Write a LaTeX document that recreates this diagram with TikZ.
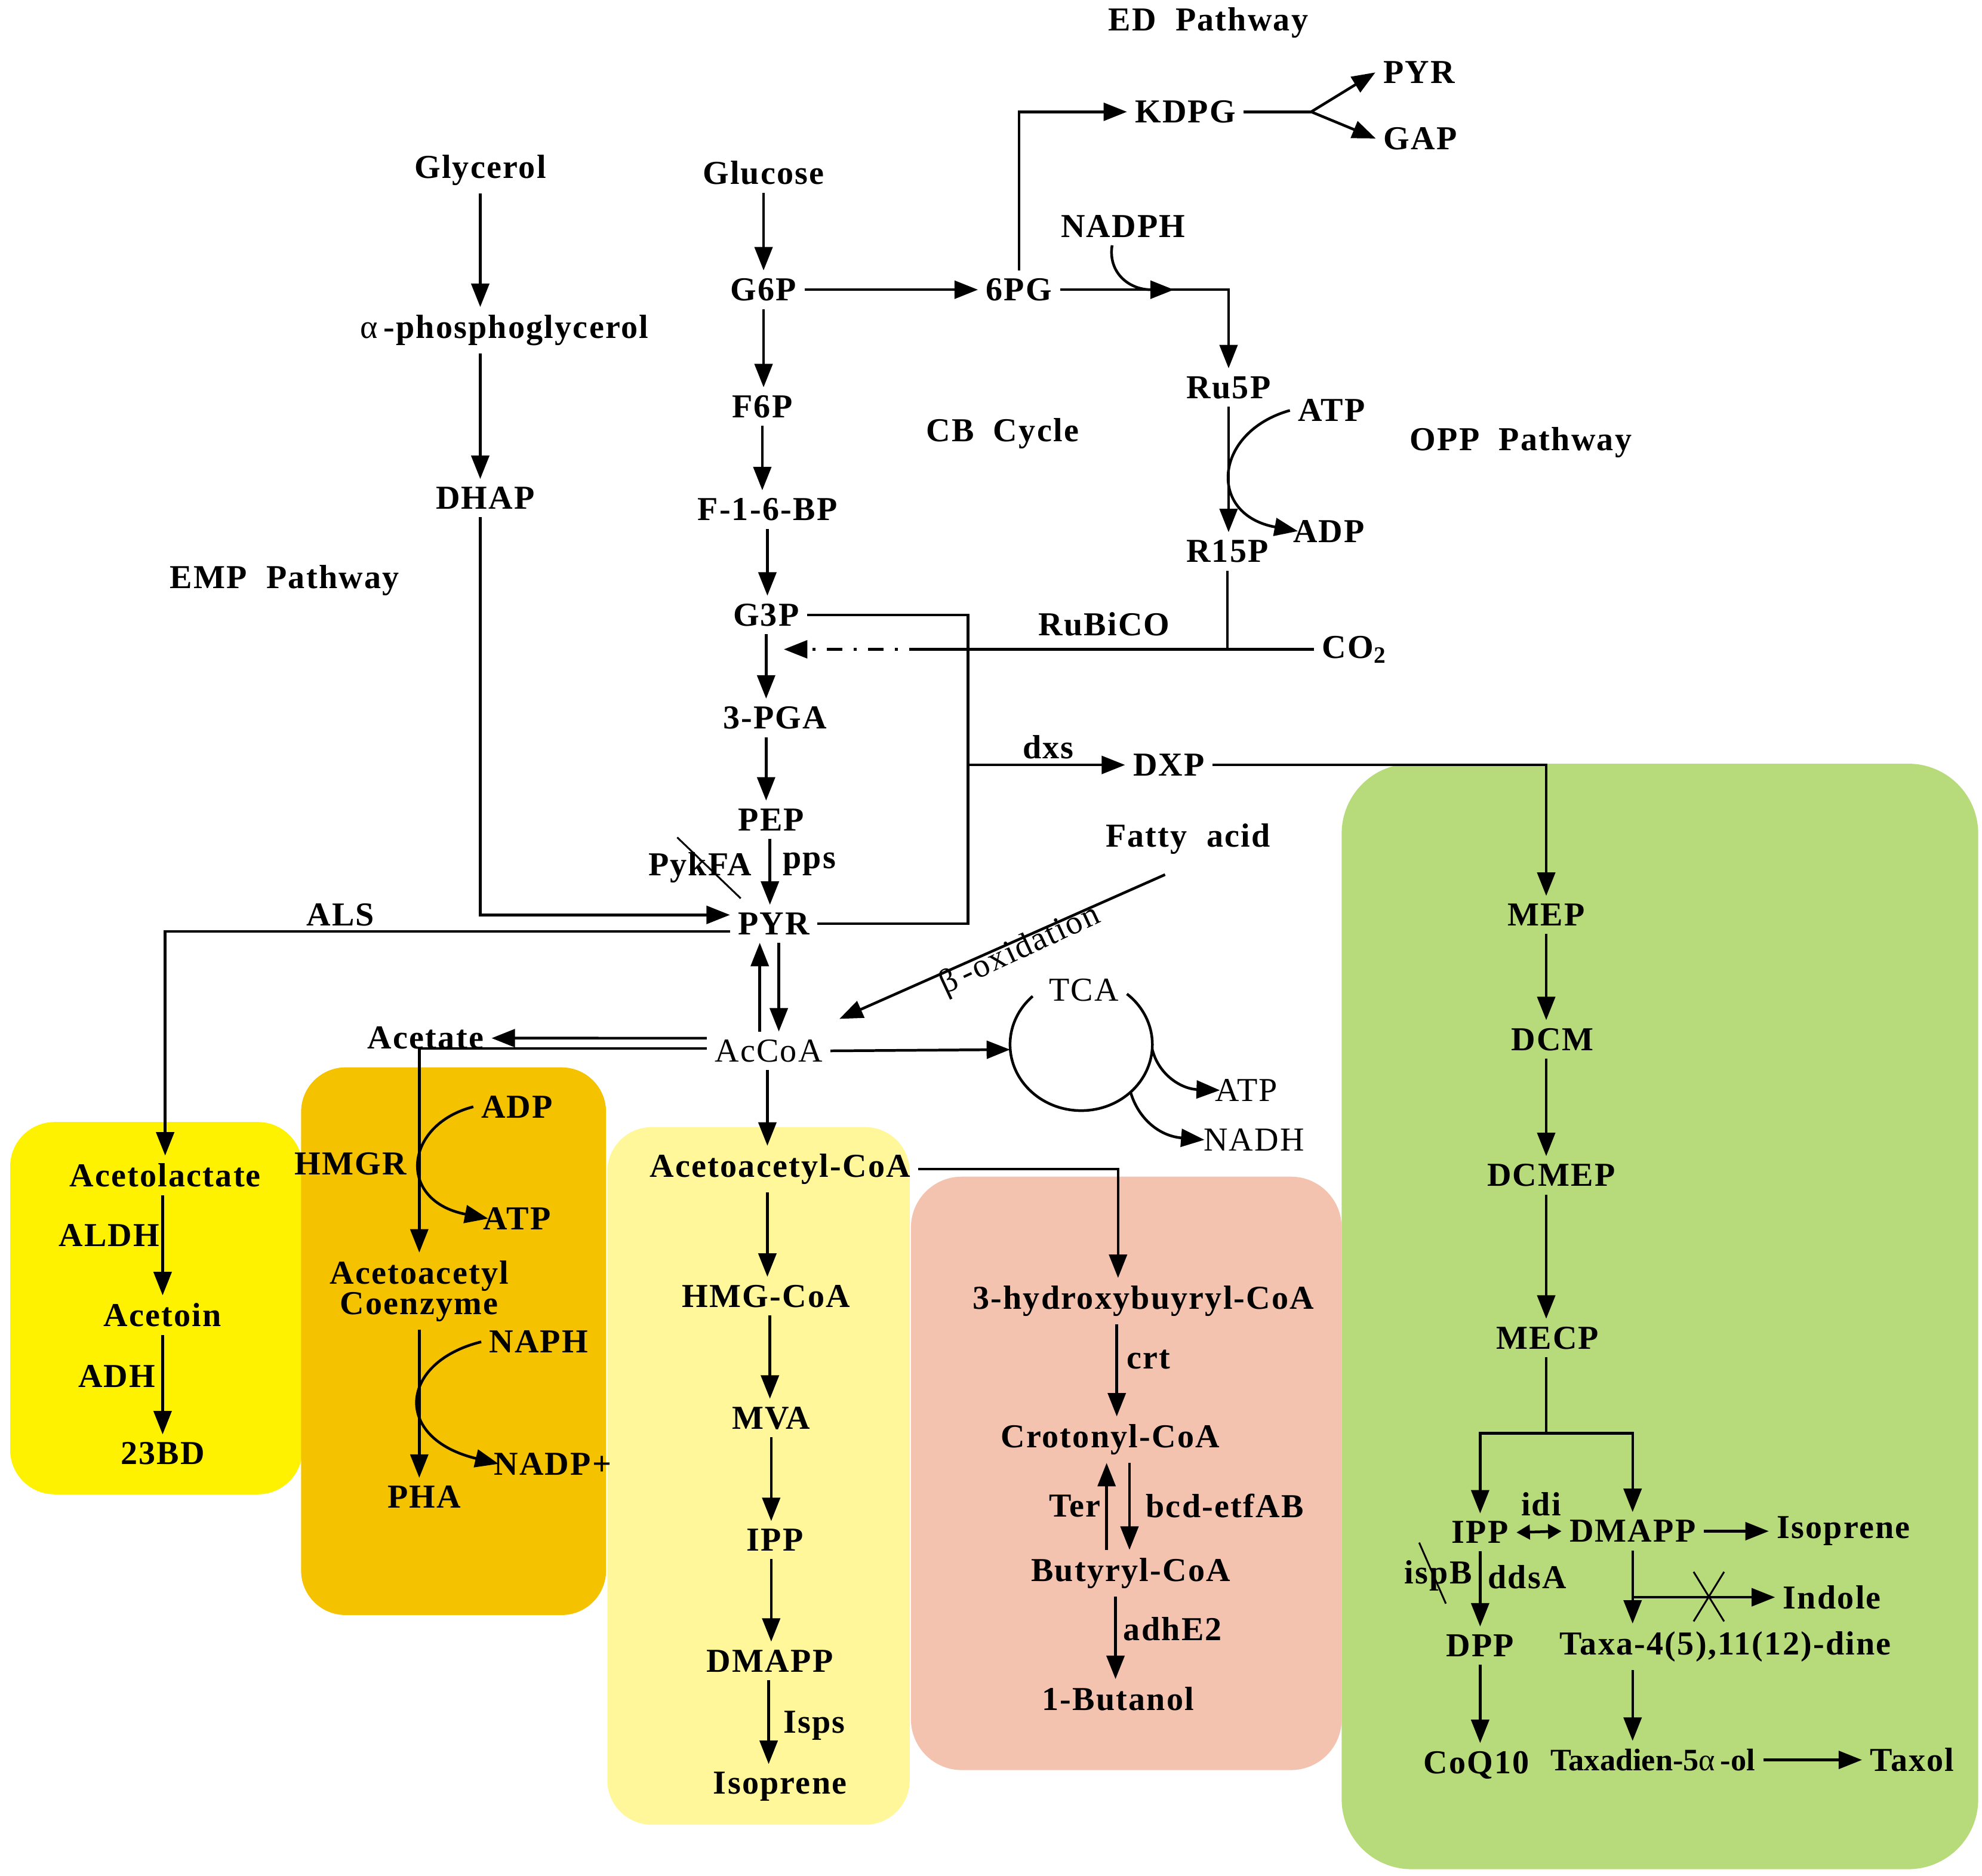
\documentclass[tikz,border=0pt]{standalone}
\usepackage{fontspec}
\setmainfont{Liberation Serif}[LetterSpace=4]
\usetikzlibrary{arrows.meta}
\definecolor{bdbox}{RGB}{255,242,0}
\definecolor{phabox}{RGB}{245,194,0}
\definecolor{mvabox}{RGB}{255,247,153}
\definecolor{butbox}{RGB}{244,195,176}
\definecolor{mepbox}{RGB}{183,219,123}

\begin{document}
\begin{tikzpicture}[x=0.02cm,y=-0.02cm,line width=1.2pt,
  every node/.style={font=\bfseries\fontsize{15}{17}\selectfont,inner sep=3pt},
  slim/.style={font=\mdseries\fontsize{15}{17}\selectfont},
  arr/.style={-{Triangle[length=10.5pt,width=8pt]}},
  twoway/.style={{Triangle[length=6pt,width=6.5pt]}-{Triangle[length=6pt,width=6.5pt]}},
  strike/.style={line width=0.8pt}]
\useasboundingbox (0,0) rectangle (1560,1476);

% coloured boxes
\fill[bdbox,rounded corners=0.7cm] (8,883) rectangle (238,1176);
\fill[phabox,rounded corners=0.7cm] (237,840) rectangle (477,1271);
\fill[mvabox,rounded corners=0.7cm] (478,887) rectangle (716,1436);
\fill[butbox,rounded corners=0.8cm] (717,926) rectangle (1056,1393);
\fill[mepbox,rounded corners=1.1cm] (1056,601) rectangle (1557,1471);

% upper part
\node (edp) at (951,18) {ED\ \ Pathway};
\node (pyred) at (1117,57) {PYR};
\node (gap) at (1118,109) {GAP};
\node (kdpg) at (933,88) {KDPG};
\node (glycerol) at (378,134) {Glycerol};
\node (glucose) at (601,136) {Glucose};
\node (nadph) at (884,178) {NADPH};
\node (g6p) at (601,228) {G6P};
\node (pg6) at (802,228) {6PG};
\node (aphos) at (397,260) {{\mdseries α}\,-phosphoglycerol};
\node (ru5p) at (967,305) {Ru5P};
\node (f6p) at (600,320) {F6P};
\node (atpopp) at (1048,323) {ATP};
\node (cbc) at (789,341) {CB\ \ Cycle};
\node (oppp) at (1197,348) {OPP\ \ Pathway};
\node (dhap) at (382,392) {DHAP};
\node (fbp) at (604,401) {F-1-6-BP};
\node (adpopp) at (1046,418) {ADP};
\node (r15p) at (966,434) {R15P};
\node (empp) at (224,457) {EMP\ \ Pathway};
\node (g3p) at (603,484) {G3P};
\node (rubisco) at (869,491) {RuBiCO};
\node (co2) at (1066,511) {CO\textsubscript{2}};
\node (pga) at (610,565) {3-PGA};
\node (dxs) at (825,588) {dxs};
\node (dxp) at (920,602) {DXP};
\node (pep) at (607,645) {PEP};
\node (fatty) at (935,660) {Fatty\ \ acid};
\node (pykfa) at (551,683) {PykFA};
\node (pps) at (637,680) {pps};
\node (als) at (268,720) {ALS};
\node (pyr) at (609,727) {PYR};
\node[slim,rotate=25,inner sep=0pt] (boxid) at (803,748) {β\,-oxidation};
\node[slim] (tca) at (853,779) {TCA};
\node (acetate) at (335,817) {Acetate};
\node[slim] (accoa) at (605,827) {AcCoA};
\node[slim] (atptca) at (981,858) {ATP};
\node[slim] (nadh) at (987,897) {NADH};

% 2,3-butanediol
\node (acetolac) at (130,925) {Acetolactate};
\node (aldh) at (86,972) {ALDH};
\node (acetoin) at (128,1035) {Acetoin};
\node (adh) at (92,1083) {ADH};
\node (bd23) at (128,1144) {23BD};

% PHA
\node (adpm) at (407,871) {ADP};
\node (hmgr) at (276,916) {HMGR};
\node (atpm) at (407,959) {ATP};
\node[align=center,font=\bfseries\fontsize{15}{13.6}\selectfont] (acacoenz) at (330,1016) {Acetoacetyl\\Coenzyme};
\node (naph) at (424,1056) {NAPH};
\node (nadpp) at (435,1152) {NADP+};
\node (pha) at (334,1178) {PHA};

% MVA
\node (acac) at (614,920) {Acetoacetyl-CoA};
\node (hmg) at (603,1020) {HMG-CoA};
\node (mva) at (607,1116) {MVA};
\node (ippm) at (610,1212) {IPP};
\node (dmappm) at (606,1307) {DMAPP};
\node (isps) at (641,1358) {Isps};
\node (isopm) at (614,1406) {Isoprene};

% 1-butanol
\node (hbcoa) at (900,1024) {3-hydroxybuyryl-CoA};
\node (crt) at (904,1070) {crt};
\node (crot) at (874,1133) {Crotonyl-CoA};
\node (ter) at (846,1185) {Ter};
\node (bcd) at (964,1185) {bcd-etfAB};
\node (butyr) at (890,1238) {Butyryl-CoA};
\node (adhe) at (923,1282) {adhE2};
\node (butanol) at (880,1337) {1-Butanol};

% MEP
\node (mep) at (1217,720) {MEP};
\node (dcm) at (1222,818) {DCM};
\node (dcmep) at (1221,925) {DCMEP};
\node (mecp) at (1218,1053) {MECP};
\node (ippg) at (1165,1206) {IPP};
\node (idi) at (1213,1184) {idi};
\node (dmappg) at (1285,1205) {DMAPP};
\node (isopg) at (1451,1205) {Isoprene};
\node (ispb) at (1132,1240) {ispB};
\node (ddsa) at (1202,1241) {ddsA};
\node (indole) at (1442,1257) {Indole};
\node (dpp) at (1165,1295) {DPP};
\node (taxa) at (1358,1296) {Taxa-4(5),11(12)-dine};
\node (coq) at (1162,1389) {CoQ10};
\node[font=\bfseries\fontsize{14}{16}\selectfont\addfontfeatures{LetterSpace=0}] (taxad) at (1301,1385) {Taxadien-5{\mdseries α}\,-ol};
\node (taxol) at (1505,1385) {Taxol};

% glycolysis and OPP / ED
\draw[arr] (glycerol.south) -- (glycerol.south |- aphos.north);
\draw[arr] (aphos.south -| glycerol) -- (dhap.north -| glycerol);
\draw[arr] (dhap.south -| glycerol) |- ([yshift=0.14cm]pyr.west);
\draw[arr] (glucose.south) -- (glucose.south |- g6p.north);
\draw[arr] (g6p.east) -- (pg6.west);
\draw[arr] (g6p.south) -- (g6p.south |- f6p.north);
\draw[arr] (f6p.south) -- (f6p.south |- fbp.north);
\draw[arr] (fbp.south) -- (fbp.south |- g3p.north);
\draw[arr] (g3p.south) -- (g3p.south |- pga.north);
\draw[arr] (pga.south -| g3p) -- (pep.north -| g3p);
\draw[arr] (pep.south -| 606,0) -- (pyr.north -| 606,0);
\draw[strike] (533,659) -- (583,707);
\draw[arr] (pg6.north) |- (kdpg.west);
\coordinate (edfork) at (1032,88);
\draw (kdpg.east) -- (edfork);
\draw[arr] (edfork) -- (pyred.west);
\draw[arr] (edfork) -- (gap.west);
\coordinate (nadphin) at (924,228);
\draw[arr] (pg6.east) -| (ru5p.north);
\draw[arr] (nadph.240) .. controls (872,214) and (888,228) .. (nadphin);
\draw[arr] (ru5p.south) -- (ru5p.south |- r15p.north);
\draw[arr] (atpopp.west) .. controls (955,340) and (950,405) .. ([xshift=0.2cm]adpopp.west);
\draw (r15p.south) -- (r15p.south |- co2.west);
\coordinate (rubend) at (728,511);
\coordinate (g3pin) at (617,511);
\draw (co2.west) -- (rubend);
\draw[arr,dash pattern=on 7pt off 5pt on 1.5pt off 5pt] (rubend) -- (g3pin);
\draw (g3p.east) -| (pyr.east -| 762,0) -- (pyr.east);
\coordinate (dxsfork) at (762,602);
\draw[arr] (dxsfork) -- (dxp.west);
\draw[arr] (dxp.east) -| (mep.north);

% PYR, AcCoA and TCA
\draw[arr] ([yshift=-0.12cm]pyr.west) -| (acetolac.north);
\draw[arr] (accoa.north -| 598,0) -- (pyr.south -| 598,0);
\draw[arr] (pyr.south -| 613,0) -- (accoa.north -| 613,0);
\draw[arr] ([xshift=-0.36cm,yshift=-0.2cm]fatty.south) -- ([xshift=0.14cm,yshift=0.2cm]accoa.north east);
\draw[arr] ([yshift=0.2cm]accoa.west) -- (acetate.east);
\draw[arr] ([yshift=0.04cm]accoa.west) -| (acacoenz.north);
\coordinate (tcain) at (795,826);
\draw[arr] (accoa.east) -- (tcain);
\draw (812.8,784) arc[start angle=227, end angle=-50, x radius=56, y radius=52];
\coordinate (tcaatp) at (907,826);
\coordinate (tcanadh) at (890,860);
\draw[arr] (tcaatp) .. controls (912,846) and (930,857) .. ([xshift=0.2cm]atptca.west);
\draw[arr] (tcanadh) .. controls (896,880) and (912,894) .. ([xshift=0.14cm]nadh.west);

% 2,3-butanediol and PHA
\draw[arr] (acetolac.south -| acetoin) -- (acetoin.north);
\draw[arr] (acetoin.south) -- (acetoin.south |- bd23.north);
\draw[arr] (adpm.west) .. controls (318,885) and (312,945) .. ([xshift=0.2cm]atpm.west);
\draw[arr] (acacoenz.south) -- (acacoenz.south |- pha.north);
\draw[arr] (naph.west) .. controls (314,1072) and (309,1132) .. ([xshift=0.2cm]nadpp.west);

% MVA and 1-butanol
\draw[arr] (accoa.south -| 604,0) -- (acac.north -| 604,0);
\draw[arr] (acac.south -| 604,0) -- (hmg.north -| 604,0);
\draw[arr] (hmg.south -| 606,0) -- (mva.north -| 606,0);
\draw[arr] (mva.south -| 607,0) -- (ippm.north -| 607,0);
\draw[arr] (ippm.south -| 607,0) -- (dmappm.north -| 607,0);
\draw[arr] (dmappm.south -| 605,0) -- (isopm.north -| 605,0);
\draw[arr] (acac.east) -| (hbcoa.north -| 880,0);
\draw[arr] (hbcoa.south -| 879,0) -- (crot.north -| 879,0);
\draw[arr] (butyr.north -| 871,0) -- (crot.south -| 871,0);
\draw[arr] (crot.south -| 889,0) -- (butyr.north -| 889,0);
\draw[arr] (butyr.south -| 878,0) -- (butanol.north -| 878,0);

% MEP
\draw[arr] (mep.south) -- (mep.south |- dcm.north);
\draw[arr] (dcm.south -| mep) -- (dcmep.north -| mep);
\draw[arr] (dcmep.south -| mep) -- (mecp.north -| mep);
\coordinate (mfork) at (1217,1128);
\draw (mecp.south -| mep) -- (mfork);
\draw[arr] (mfork) -| (ippg.north);
\draw[arr] (mfork) -| (dmappg.north);
\draw[twoway] (ippg.east) -- (dmappg.west);
\draw[arr] (dmappg.east) -- (isopg.west);
\draw[arr] (ippg.south) -- (ippg.south |- dpp.north);
\draw[strike] (1117,1214) -- (1138,1262);
\draw[arr] (dmappg.south) -- (dmappg.south |- taxa.north);
\draw[arr] (dmappg.south |- indole.west) -- (indole.west);
\draw[strike] (1333,1237) -- (1357,1276) (1357,1237) -- (1333,1276);
\draw[arr] (dpp.south) -- (dpp.south |- coq.north);
\draw[arr] (dmappg.south |- taxa.south) -- (dmappg.south |- taxad.north);
\draw[arr] (taxad.east) -- (taxol.west);
\end{tikzpicture}
\end{document}
